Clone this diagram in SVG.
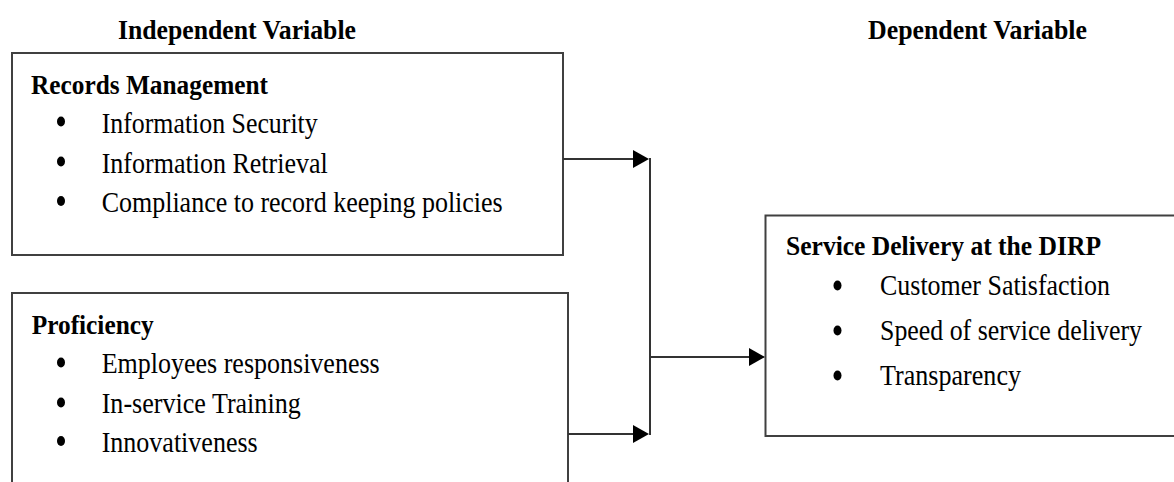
<svg xmlns="http://www.w3.org/2000/svg" width="1174" height="482" viewBox="0 0 1174 482">
<style>
.box{fill:#fff;stroke:#404040;stroke-width:2}
.hd{font-family:"Liberation Serif","Times New Roman",serif;font-weight:bold;font-size:27px;fill:#000}
.it{font-family:"Liberation Serif","Times New Roman",serif;font-size:30px;fill:#000}
.bul{fill:#000}
.con{fill:none;stroke:#333;stroke-width:2}
</style>
<defs>
<marker id="arr" markerUnits="userSpaceOnUse" markerWidth="16" markerHeight="18" refX="0" refY="9" orient="auto">
<polygon points="0,0 16,9 0,18" fill="#000"/>
</marker>
</defs>
<rect width="1174" height="482" fill="#fff"/>
<text class="hd" x="118" y="38.5" textLength="238" lengthAdjust="spacingAndGlyphs">Independent  Variable</text>
<text class="hd" x="868" y="38.5" textLength="219" lengthAdjust="spacingAndGlyphs">Dependent Variable</text>
<g id="records-management">
<rect class="box" x="12" y="53" width="551" height="202"/>
<text class="hd" x="31" y="93.5" textLength="237" lengthAdjust="spacingAndGlyphs">Records Management</text>
<ellipse class="bul" cx="61" cy="121.5" rx="4" ry="5"/>
<text class="it" x="101.7" y="132.5" textLength="216" lengthAdjust="spacingAndGlyphs">Information Security</text>
<ellipse class="bul" cx="61" cy="161.5" rx="4" ry="5"/>
<text class="it" x="101.7" y="172.5" textLength="226" lengthAdjust="spacingAndGlyphs">Information Retrieval</text>
<ellipse class="bul" cx="61" cy="201" rx="4" ry="5"/>
<text class="it" x="101.7" y="212" textLength="401" lengthAdjust="spacingAndGlyphs">Compliance to record keeping policies</text>
</g>
<g id="proficiency">
<rect class="box" x="12" y="293" width="556" height="200"/>
<text class="hd" x="31.7" y="334.3" textLength="122" lengthAdjust="spacingAndGlyphs">Proficiency</text>
<ellipse class="bul" cx="61" cy="362.5" rx="4" ry="5"/>
<text class="it" x="101.7" y="373.3" textLength="278" lengthAdjust="spacingAndGlyphs">Employees responsiveness</text>
<ellipse class="bul" cx="61" cy="402.5" rx="4" ry="5"/>
<text class="it" x="101.7" y="413.3" textLength="199" lengthAdjust="spacingAndGlyphs">In-service Training</text>
<ellipse class="bul" cx="61" cy="441" rx="4" ry="5"/>
<text class="it" x="101.7" y="452" textLength="156" lengthAdjust="spacingAndGlyphs">Innovativeness</text>
</g>
<g id="service-delivery">
<rect class="box" x="765.5" y="215.5" width="420" height="220.5"/>
<text class="hd" x="786" y="255" textLength="315" lengthAdjust="spacingAndGlyphs">Service Delivery at the DIRP</text>
<ellipse class="bul" cx="837.5" cy="285.5" rx="4" ry="5"/>
<text class="it" x="880" y="295" textLength="230" lengthAdjust="spacingAndGlyphs">Customer Satisfaction</text>
<ellipse class="bul" cx="837.5" cy="330.5" rx="4" ry="5"/>
<text class="it" x="880" y="340" textLength="262" lengthAdjust="spacingAndGlyphs">Speed of service delivery</text>
<ellipse class="bul" cx="837.5" cy="375.5" rx="4" ry="5"/>
<text class="it" x="880" y="385" textLength="141" lengthAdjust="spacingAndGlyphs">Transparency</text>
</g>
<g id="connectors">
<path class="con" d="M563 159 H633" marker-end="url(#arr)"/>
<path class="con" d="M568 434 H633" marker-end="url(#arr)"/>
<path class="con" d="M650 158 V435"/>
<path class="con" d="M650 357 H749" marker-end="url(#arr)"/>
</g>
</svg>
